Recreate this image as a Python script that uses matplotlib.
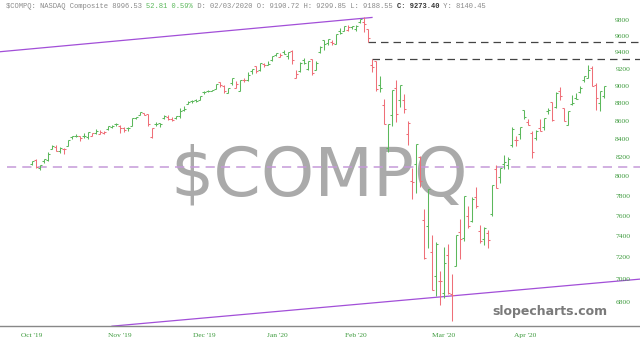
import matplotlib
matplotlib.use("Agg")
import matplotlib.pyplot as plt

# NASDAQ Composite daily bars, Oct 21 2019 .. May 15 2020 (one entry per trading day)
opens = [
    8137, 8178, 8088, 8168, 8172,
    8290, 8311, 8275, 8298, 8330,
    8427, 8438, 8433, 8437, 8421,
    8436, 8465, 8458, 8468, 8513,
    8538, 8570, 8542, 8523, 8528,
    8550, 8632, 8667, 8685,
    8678, 8424, 8564, 8579, 8630,
    8649, 8627, 8632, 8652, 8719,
    8796, 8829, 8836, 8836, 8927,
    8941, 8948, 8967, 9050,
    9005, 8919, 9040, 8977,
    8944, 9070, 9069, 9180, 9236,
    9187, 9256, 9252, 9313, 9373,
    9348, 9405, 9354, 9425,
    9093, 9178, 9306, 9202, 9324,
    9191, 9402, 9553, 9523, 9528,
    9506, 9667, 9672, 9677, 9720,
    9690, 9778, 9781, 9688,
    9246, 9292, 9007, 8784, 8303,
    8667, 8974, 8840, 8839, 8456,
    7956, 8136, 8207, 7562, 7502,
    7255, 7036, 6989, 6880, 7232,
    6867, 7123, 7449, 7388, 7607,
    7553, 7788, 7456, 7383, 7437,
    7620, 8082, 7993, 8130,
    8126, 8339, 8393, 8453, 8727,
    8591, 8468, 8418, 8523, 8529,
    8718, 8811, 8753, 8937, 8748,
    8557, 8793, 8866, 8931, 9069,
    9090, 9216, 9010, 8805, 8886,
]
highs = [
    8166, 8186, 8121, 8191, 8258,
    8342, 8332, 8319, 8304, 8386,
    8436, 8458, 8434, 8469, 8477,
    8469, 8510, 8497, 8490, 8541,
    8555, 8581, 8555, 8529, 8533,
    8633, 8649, 8705, 8689,
    8681, 8524, 8587, 8580, 8665,
    8669, 8650, 8656, 8745, 8767,
    8823, 8835, 8846, 8888, 8946,
    8956, 8957, 9022, 9052,
    9007, 8973, 9093, 9065,
    9072, 9092, 9168, 9205, 9237,
    9274, 9275, 9294, 9357, 9393,
    9391, 9431, 9409, 9433,
    9190, 9280, 9336, 9301, 9325,
    9300, 9477, 9553, 9572, 9555,
    9628, 9701, 9726, 9740, 9731,
    9739, 9818, 9838, 9697,
    9320, 9303, 9116, 8849, 8567,
    8953, 9071, 9018, 8905, 8600,
    8087, 8345, 8220, 7673, 7875,
    7417, 7350, 7079, 7300, 7327,
    7049, 7420, 7576, 7798, 7699,
    7788, 7891, 7514, 7496, 7465,
    7914, 8122, 8091, 8225,
    8203, 8530, 8432, 8534, 8727,
    8621, 8492, 8502, 8624, 8640,
    8744, 8811, 8933, 8984, 8749,
    8711, 8891, 8915, 9001, 9121,
    9246, 9239, 9037, 8946, 9003,
]
lows = [
    8120, 8097, 8076, 8140, 8168,
    8290, 8273, 8247, 8244, 8321,
    8406, 8426, 8380, 8416, 8407,
    8433, 8461, 8455, 8453, 8503,
    8524, 8545, 8469, 8479, 8486,
    8550, 8622, 8665, 8663,
    8543, 8415, 8547, 8531, 8628,
    8616, 8605, 8620, 8630, 8712,
    8792, 8809, 8817, 8833, 8906,
    8929, 8938, 8967, 8986,
    8920, 8914, 9010, 8977,
    8944, 9043, 9060, 9145, 9156,
    9180, 9224, 9247, 9298, 9355,
    9340, 9381, 9317, 9256,
    9089, 9161, 9262, 9189, 9125,
    9189, 9390, 9430, 9497, 9495,
    9504, 9624, 9665, 9672, 9686,
    9670, 9768, 9651, 9534,
    9166, 8942, 8929, 8566, 8264,
    8546, 8589, 8762, 8691, 8341,
    7772, 7832, 7894, 7194, 7289,
    6904, 6853, 6774, 6832, 6873,
    6631, 7122, 7192, 7359, 7488,
    7544, 7681, 7345, 7326, 7292,
    7606, 7883, 7939, 8085,
    8083, 8317, 8327, 8404, 8621,
    8552, 8198, 8396, 8487, 8499,
    8682, 8596, 8750, 8839, 8602,
    8553, 8786, 8847, 8922, 9050,
    9090, 9000, 8727, 8716, 8866,
]
closes = [
    8163, 8104, 8120, 8186, 8243,
    8326, 8277, 8304, 8292, 8386,
    8433, 8435, 8411, 8435, 8475,
    8464, 8486, 8482, 8479, 8541,
    8550, 8571, 8527, 8506, 8520,
    8632, 8648, 8705, 8665,
    8568, 8521, 8567, 8571, 8657,
    8622, 8616, 8654, 8717, 8735,
    8814, 8823, 8828, 8887, 8925,
    8946, 8953, 9022, 9007,
    8946, 8973, 9092, 9021,
    9071, 9069, 9129, 9203, 9179,
    9274, 9251, 9259, 9357, 9389,
    9371, 9384, 9402, 9315,
    9139, 9270, 9275, 9299, 9151,
    9273, 9468, 9509, 9572, 9521,
    9628, 9639, 9726, 9712, 9731,
    9733, 9817, 9751, 9577,
    9221, 8966, 8981, 8566, 8567,
    8952, 8684, 9018, 8739, 8576,
    7951, 8344, 7952, 7202, 7875,
    6905, 7335, 6990, 7151, 6880,
    6861, 7418, 7384, 7798, 7502,
    7774, 7700, 7361, 7487, 7373,
    7913, 7887, 8091, 8154,
    8192, 8516, 8393, 8532, 8650,
    8561, 8263, 8495, 8494, 8635,
    8730, 8608, 8915, 8890, 8605,
    8711, 8809, 8854, 8980, 9121,
    9192, 9003, 8863, 8944, 8997,
]

month_labels = ["Oct '19", "Nov '19", "Dec '19", "Jan '20", "Feb '20", "Mar '20", "Apr '20"]
month_pos = [0, 22, 43, 61.3, 81, 103, 123.2]
price_ticks = [6800, 7000, 7200, 7400, 7600, 7800, 8000, 8200, 8400, 8600, 8800, 9000, 9200, 9400, 9600, 9800]

# drawn lines: (bar index, price) endpoints
upper_trend = ([-8, 85], [9410, 9838])
lower_trend = ([20, 152], [6590, 7005])
support_level = 8105
gap_top = 9535
gap_bottom = 9320

GREEN = "#5cb85c"
RED = "#ef6f78"

fig = plt.figure(figsize=(6.4, 3.51), dpi=100)
ax = fig.add_axes([0, 25.3 / 351, 1, 313.7 / 351])
ax.set_yscale("log")
ax.set_ylim(6594, 9908)
ax.set_xlim(-8, 152)

# big watermark behind everything
ax.text(0.498, 0.4166, "$COMPQ", transform=ax.transAxes, ha="center", va="baseline",
        fontsize=49, color="#aaaaaa", family="DejaVu Sans", zorder=0)
ax.text(0.86, 0.035, "slopecharts.com", transform=ax.transAxes, ha="center", va="baseline",
        fontsize=9, color="#7a7a7a", fontweight="bold", family="DejaVu Sans", zorder=1)

# OHLC bars, coloured by change from the previous close
for i in range(len(closes)):
    prev = closes[i - 1] if i > 0 else opens[i]
    c = GREEN if closes[i] >= prev else RED
    ax.vlines(i, lows[i], highs[i], color=c, lw=0.75, zorder=3)
    ax.hlines(opens[i], i - 0.45, i, color=c, lw=0.75, zorder=3)
    ax.hlines(closes[i], i, i + 0.45, color=c, lw=0.75, zorder=3)

ax.plot(*upper_trend, color="#a24fd8", lw=0.9, zorder=2)
ax.plot(*lower_trend, color="#a24fd8", lw=0.9, zorder=2)
ax.plot([-6.2, 152], [support_level, support_level], color="#c59ad8", lw=1.1,
        dashes=(6, 4), zorder=2)
ax.plot([84, 152], [gap_top, gap_top], color="#444444", lw=0.9, dashes=(6, 4), zorder=2)
ax.plot([85, 152], [gap_bottom, gap_bottom], color="#444444", lw=0.9, dashes=(6, 4), zorder=2)

for v in price_ticks:
    ax.text(0.973, v, str(v), transform=ax.get_yaxis_transform(), ha="center", va="center",
            fontsize=5.4, color="#3c9a3c", family="Liberation Serif", zorder=4)

ax.set_yticks([])
ax.minorticks_off()
ax.set_xticks(month_pos)
ax.set_xticklabels(month_labels, fontsize=5.4, color="#3c9a3c", family="Liberation Serif")
ax.tick_params(axis="x", length=0, pad=5)
for s in ["top", "left", "right"]:
    ax.spines[s].set_visible(False)
ax.spines["bottom"].set_color("#888888")
ax.spines["bottom"].set_linewidth(1.0)

# header line in monospace, pieces coloured separately
fs = 5.1
char_w = 0.6 * fs * 100 / 72
pieces = [
    ("$COMPQ: NASDAQ Composite 8996.53 ", "#8a8a8a", "normal"),
    ("52.81 0.59%", "#5cb85c", "normal"),
    (" D: 02/03/2020 O: 9190.72 H: 9299.85 L: 9188.55 ", "#8a8a8a", "normal"),
    ("C: 9273.40", "#333333", "bold"),
    (" Y: 8140.45", "#8a8a8a", "normal"),
]
x0 = 6
n = 0
for txt, col, w in pieces:
    fig.text((x0 + n * char_w) / 640, 1 - 6.5 / 351, txt, ha="left", va="center",
             fontsize=fs, color=col, fontweight=w, family="Liberation Mono")
    n += len(txt)

fig.savefig("out.png", dpi=100)
